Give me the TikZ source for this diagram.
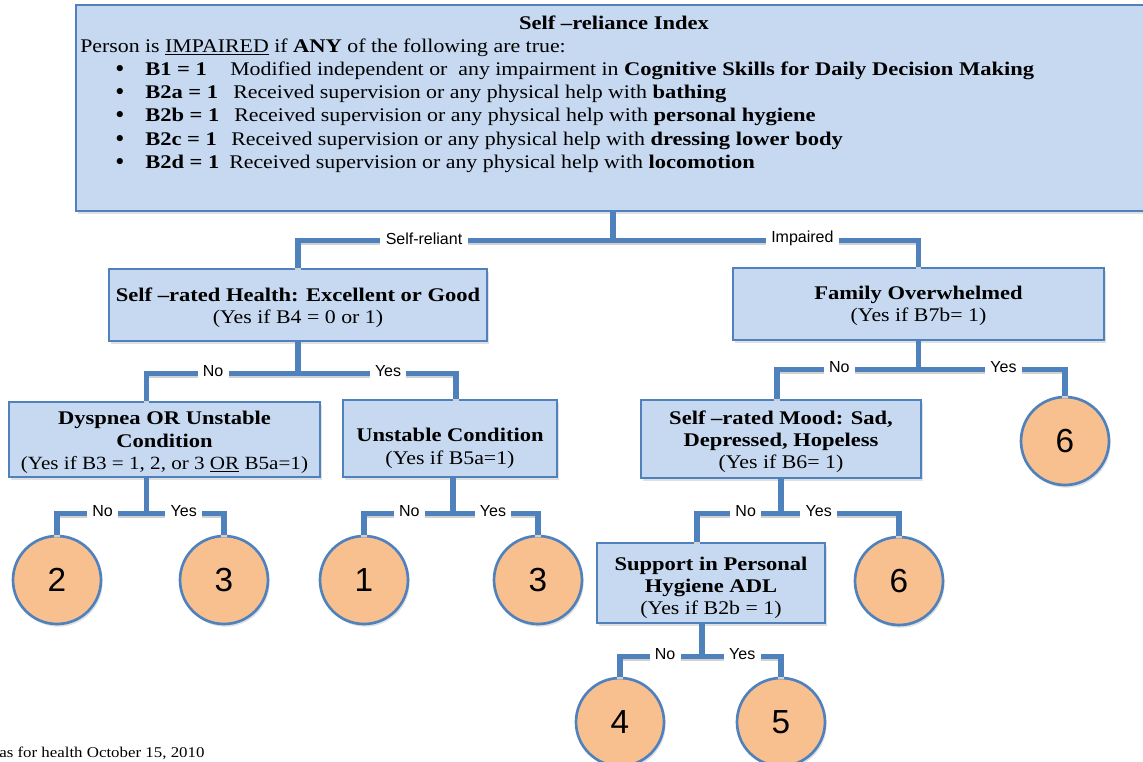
\documentclass[tikz,border=0pt]{standalone}
\usepackage{fontspec}
\setmainfont{Liberation Serif}[FakeStretch=1.13, BoldFeatures={FakeStretch=1.166}]
\newfontfamily\labfont{Liberation Sans}
\newfontfamily\symfont{DejaVu Sans}
\usetikzlibrary{calc,shadows}
\definecolor{boxfill}{HTML}{C6D9F1}
\definecolor{edgeblue}{HTML}{4F81BD}
\definecolor{leaffill}{HTML}{F9C08F}
% invisible strut that sets the height of a box's first line
\newcommand\toprule[1]{\rule{0pt}{#1}}
\tikzset{
  shade/.style={drop shadow={shadow xshift=1.2pt, shadow yshift=-2pt, fill=black!35, opacity=.35}},
  qbox/.style={rectangle, draw=edgeblue, line width=2.2pt, fill=boxfill, shade,
    align=center, inner sep=0pt, font=\fontsize{14.5}{16.8}\selectfont},
  leaf/.style={circle, draw=edgeblue, line width=2pt, fill=leaffill, shade,
    minimum size=66pt, inner sep=0pt, font=\labfont\fontsize{25}{25}\selectfont},
  conn/.style={draw=edgeblue, line width=3.8pt,
    preaction={draw=black!18, line width=3.8pt, transform canvas={yshift=-1.8pt}}},
  lab/.style={fill=white, inner xsep=4pt, inner ysep=1pt, yshift=1.5pt,
    font=\labfont\fontsize{12}{13}\selectfont},
  txt/.style={inner sep=0pt, font=\fontsize{14.5}{16.8}\selectfont},
}
\begin{document}
\begin{tikzpicture}[x=0.75pt, y=-0.75pt]
\useasboundingbox (0,0) rectangle (1143,761);

% index box with its criteria
\node[qbox, minimum width=805.5pt, minimum height=154.5pt] (top) at (613,108) {};
\node[txt, font=\fontsize{14.5}{16.8}\selectfont\bfseries] (title) at (614,23) {Self –reliance Index};
\node[txt, anchor=west] (intro) at (80,48) {Person is \underline{IMPAIRED} if \textbf{ANY} of the following are true:};
\foreach \y/\w/\code/\rest [count=\i] in {
  71/85/{B1 = 1}/{Modified independent or \ any impairment in \textbf{Cognitive Skills for Daily Decision Making}},
  94/88/{B2a = 1}/{Received supervision or any physical help with \textbf{bathing}},
  117/89/{B2b = 1}/{Received supervision or any physical help with \textbf{personal hygiene}},
  141/86/{B2c = 1}/{Received supervision or any physical help with \textbf{dressing lower body}},
  164/84/{B2d = 1}/{Received supervision or any physical help with \textbf{locomotion}}}{
  \node[inner sep=0pt, font=\symfont\fontsize{16}{16}\selectfont] (bul\i) at (120,\y) {•};
  \node[txt, anchor=west] (crit\i) at (145,\y) {\makebox[\w\dimexpr 0.75pt\relax][l]{\textbf{\code}}\rest};
}

% decision boxes
\node[qbox, minimum width=283.5pt, minimum height=54pt] (srh) at (298,305)
  {\toprule{14.4pt}\textbf{Self –rated Health: Excellent or Good}\\(Yes if B4 = 0 or 1)};
\node[qbox, minimum width=278.25pt, minimum height=54pt] (fam) at (918.5,304)
  {\toprule{12.9pt}\textbf{Family Overwhelmed}\\(Yes if B7b= 1)};
\node[qbox, minimum width=233.25pt, minimum height=56.25pt] (dys) at (164.5,439.5)
  {\toprule{14.4pt}\textbf{Dyspnea OR Unstable}\\\textbf{Condition}\\{\fontsize{14}{16.8}\selectfont(Yes if B3 = 1, 2, or 3 \underline{OR} B5a=1)}};
\node[qbox, minimum width=160.5pt, minimum height=57.75pt] (uns) at (450,438.5)
  {\toprule{24.9pt}\textbf{Unstable Condition}\\(Yes if B5a=1)};
\node[qbox, minimum width=210pt, minimum height=58.5pt] (mood) at (781,439)
  {\toprule{14.4pt}\textbf{Self –rated Mood: Sad,}\\\textbf{Depressed, Hopeless}\\(Yes if B6= 1)};
\node[qbox, minimum width=171pt, minimum height=60pt] (sup) at (711,583)
  {\toprule{17.4pt}\textbf{Support in Personal}\\\textbf{Hygiene ADL}\\(Yes if B2b = 1)};

% outcome groups
\node[leaf] (c2)  at (57,580)   {2};
\node[leaf] (c3a) at (224,580)  {3};
\node[leaf] (c1)  at (364,580)  {1};
\node[leaf] (c3b) at (538,580)  {3};
\node[leaf] (c6a) at (1065,441) {6};
\node[leaf] (c6b) at (899,581)  {6};
\node[leaf] (c4)  at (620,722)  {4};
\node[leaf] (c5)  at (781,722)  {5};

% branches
\draw[conn] (top.south) -- ++(0,28) coordinate (j0);
\draw[conn] (j0) -| node[lab, pos=0.3] {Self-reliant} (srh.north);
\draw[conn] (j0) -| node[lab, pos=0.31] {Impaired} (fam.north);

\draw[conn] (srh.south) -- ++(0,31) coordinate (j1);
\draw[conn] (j1) -| node[lab, pos=0.28] {No} ($(dys.north)+(-18,0)$);
\draw[conn] (j1) -| node[lab, pos=0.285] {Yes} ($(uns.north)+(6,0)$);

\draw[conn] (fam.south) -- ++(0,28) coordinate (j2);
\draw[conn] (j2) -| node[lab, pos=0.28] {No} ($(mood.north)+(-4,0)$);
\draw[conn] (j2) -| node[lab, pos=0.29] {Yes} (c6a.north);

\draw[conn] ($(dys.south)+(-18,0)$) -- ++(0,35) coordinate (j3);
\draw[conn] (j3) -| node[lab, pos=0.245] {No} (c2.north);
\draw[conn] (j3) -| node[lab, pos=0.24] {Yes} (c3a.north);

\draw[conn] ($(uns.south)+(3,0)$) -- ++(0,35) coordinate (j4);
\draw[conn] (j4) -| node[lab, pos=0.245] {No} (c1.north);
\draw[conn] (j4) -| node[lab, pos=0.235] {Yes} (c3b.north);

\draw[conn] (mood.south) -- ++(0,34) coordinate (j5);
\draw[conn] (j5) -| node[lab, pos=0.21] {No} ($(sup.north)+(-14,0)$);
\draw[conn] (j5) -| node[lab, pos=0.16] {Yes} (c6b.north);

\draw[conn] ($(sup.south)+(-9,0)$) -- ++(0,32) coordinate (j6);
\draw[conn] (j6) -| node[lab, pos=0.225] {No} (c4.north);
\draw[conn] (j6) -| node[lab, pos=0.255] {Yes} (c5.north);

% footer
\node[txt, anchor=west, font=\fontsize{11.2}{13}\selectfont] (foot) at (-1,753) {as for health October 15, 2010};
\end{tikzpicture}
\end{document}
